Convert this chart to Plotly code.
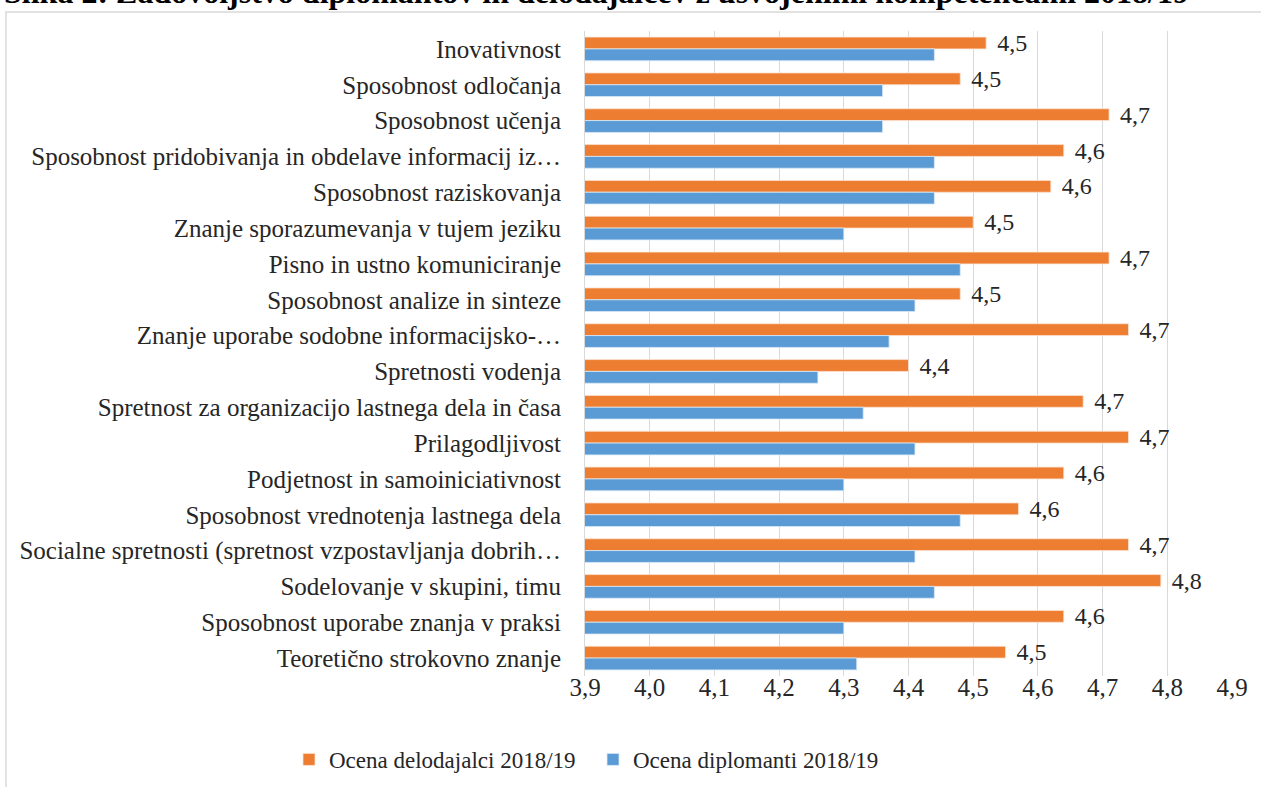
import plotly.graph_objects as go

categories = [
    "Inovativnost",
    "Sposobnost odločanja",
    "Sposobnost učenja",
    "Sposobnost pridobivanja in obdelave informacij iz…",
    "Sposobnost raziskovanja",
    "Znanje sporazumevanja v tujem jeziku",
    "Pisno in ustno komuniciranje",
    "Sposobnost analize in sinteze",
    "Znanje uporabe sodobne informacijsko-…",
    "Spretnosti vodenja",
    "Spretnost za organizacijo lastnega dela in časa",
    "Prilagodljivost",
    "Podjetnost in samoiniciativnost",
    "Sposobnost vrednotenja lastnega dela",
    "Socialne spretnosti (spretnost vzpostavljanja dobrih…",
    "Sodelovanje v skupini, timu",
    "Sposobnost uporabe znanja v praksi",
    "Teoretično strokovno znanje",
]

delodajalci = [4.52, 4.48, 4.71, 4.64, 4.62, 4.50, 4.71, 4.48, 4.74, 4.40,
               4.67, 4.74, 4.64, 4.57, 4.74, 4.79, 4.64, 4.55]
diplomanti = [4.44, 4.36, 4.36, 4.44, 4.44, 4.30, 4.48, 4.41, 4.37, 4.26,
              4.33, 4.41, 4.30, 4.48, 4.41, 4.44, 4.30, 4.32]

name_del = "Ocena delodajalci 2018/19"
name_dip = "Ocena diplomanti 2018/19"
title_text = "Slika 2: Zadovoljstvo diplomantov in delodajalcev z usvojenimi kompetencami 2018/19"

FONT = "Liberation Serif, Times New Roman, serif"
TXT = "#262626"

fig = go.Figure()
fig.add_trace(go.Bar(
    y=categories, x=delodajalci, name=name_del, orientation="h",
    marker=dict(color="#ED7D31", line=dict(color="#FBE3D3", width=0.8)),
    texttemplate="\u00a0\u200a%{x:.1f}", textposition="outside",
    constraintext="none",
    textfont=dict(family=FONT, size=24, color=TXT),
    cliponaxis=False,
))
fig.add_trace(go.Bar(
    y=categories, x=diplomanti, name=name_dip, orientation="h",
    marker=dict(color="#5B9BD5", line=dict(color="#DCEAF6", width=0.8)),
    cliponaxis=False,
))

fig.update_layout(
    width=1261, height=787,
    margin=dict(l=585, r=29, t=31, b=111, autoexpand=False),
    paper_bgcolor="white", plot_bgcolor="white",
    separators=", ",
    barmode="group", bargap=0.34, bargroupgap=0,
    font=dict(family=FONT, size=23, color=TXT),
    showlegend=True,
    legend=dict(
        orientation="h", xref="container", yref="container",
        x=289 / 1261, xanchor="left", y=0.035, yanchor="middle",
        font=dict(family=FONT, size=23, color=TXT),
        itemwidth=30, traceorder="normal",
        entrywidth=259, entrywidthmode="pixels",
    ),
    xaxis=dict(
        range=[3.9, 4.9], dtick=0.1, tick0=3.9, tickformat=".1f",
        showgrid=True, gridcolor="#D9D9D9", gridwidth=1,
        zeroline=False, showline=False, automargin=False,
        ticks="",
        tickfont=dict(family=FONT, size=25, color=TXT),
    ),
    yaxis=dict(
        autorange="reversed", type="category", automargin=False,
        showgrid=False, zeroline=False,
        showline=True, linecolor="#D9D9D9", linewidth=1,
        ticks="", ticklabelstandoff=18,
        tickfont=dict(family=FONT, size=25, color=TXT),
    ),
    shapes=[dict(
        type="rect", xref="paper", yref="paper",
        x0=-0.895, x1=1.2, y0=-0.3, y1=1.0296,
        line=dict(color="#D9D9D9", width=1.5), fillcolor="rgba(0,0,0,0)",
        layer="below",
    )],
    annotations=[dict(
        text="<b>" + title_text + "</b>", xref="paper", yref="paper",
        x=0.0185, y=1.06, xanchor="center", yanchor="middle",
        showarrow=False, font=dict(family=FONT, size=32, color="black"),
    )],
)

try:
    fig.update_xaxes(ticklabelstandoff=-6)
except Exception:
    pass

fig.write_html("out.html", config={"displayModeBar": False},
               post_script="document.body.style.margin='0';")
